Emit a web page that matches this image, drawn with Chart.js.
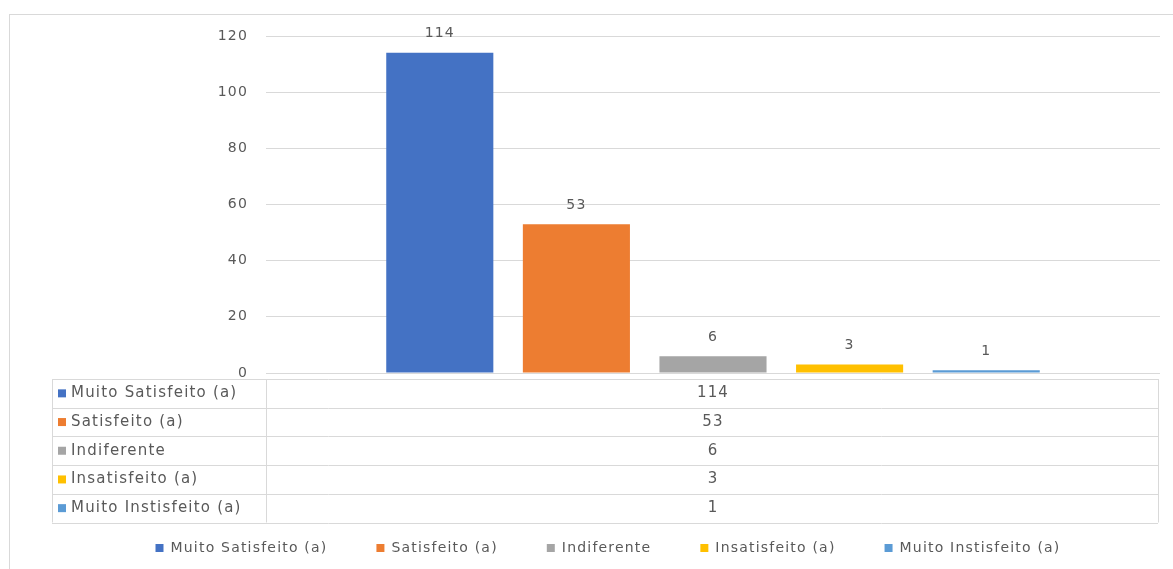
<!DOCTYPE html>
<html>
<head>
<meta charset="utf-8">
<script src="https://cdn.jsdelivr.net/npm/chart.js@4"></script>
<style>
  html, body { margin: 0; padding: 0; background: #fff; }
  #wrap { width: 1173px; height: 569px; position: relative; }
</style>
</head>
<body>
<div id="wrap"><canvas id="grafico" width="1173" height="569"></canvas></div>
<script>
// Respostas de satisfação
const categorias = ["Muito Satisfeito (a)", "Satisfeito (a)", "Indiferente", "Insatisfeito (a)", "Muito Instisfeito (a)"];
const valores = [114, 53, 6, 3, 1];
const cores = ["#4472C4", "#ED7D31", "#A5A5A5", "#FFC000", "#5B9BD5"];
const ticksY = [0, 20, 40, 60, 80, 100, 120];

const fonte = "'DejaVu Sans', 'Noto Sans', sans-serif";
const corTexto = "#595959";
const corGrade = "#d9d9d9";

// um dataset por categoria, todos no mesmo grupo
const datasets = categorias.map((nome, i) => ({
    label: nome,
    data: [valores[i]],
    backgroundColor: cores[i],
    categoryPercentage: 0.764,
    barPercentage: 0.784
}));

// moldura externa + rótulos nas barras + tabela de dados
const extras = {
    id: "extras",
    beforeUpdate(chart) {
        // texto um pouco mais espaçado, como no Excel
        chart.ctx.letterSpacing = "1.2px";
    },
    beforeDraw(chart) {
        const ctx = chart.ctx;
        ctx.save();
        ctx.fillStyle = "#fff";
        ctx.fillRect(0, 0, chart.width, chart.height);
        ctx.strokeStyle = "#d9d9d9";
        ctx.lineWidth = 1;
        ctx.strokeRect(9.5, 14.5, chart.width, chart.height);
        ctx.restore();
    },
    afterDatasetsDraw(chart) {
        const ctx = chart.ctx;
        ctx.save();
        ctx.font = "14px " + fonte;
        ctx.fillStyle = corTexto;
        ctx.textAlign = "center";
        ctx.textBaseline = "middle";
        chart.data.datasets.forEach((ds, i) => {
            const barra = chart.getDatasetMeta(i).data[0];
            ctx.fillText(String(ds.data[0]), barra.x, barra.y - 19);
        });
        ctx.restore();
    },
    afterDraw(chart) {
        const ctx = chart.ctx;
        const area = chart.chartArea;
        const esq = 52;
        const dir = area.right - 2;
        const topo = area.bottom + 6;
        const alturaLinha = 28.7;
        const centro = (area.left + area.right) / 2;
        const base = topo + alturaLinha * categorias.length;

        ctx.save();
        ctx.strokeStyle = corGrade;
        ctx.lineWidth = 1;
        ctx.beginPath();
        for (let r = 0; r <= categorias.length; r++) {
            const y = Math.round(topo + r * alturaLinha) + 0.5;
            ctx.moveTo(esq, y);
            ctx.lineTo(dir, y);
        }
        [esq, area.left, dir].forEach(x => {
            const xx = Math.round(x) + 0.5;
            ctx.moveTo(xx, topo);
            ctx.lineTo(xx, base);
        });
        ctx.stroke();

        ctx.font = "15px " + fonte;
        ctx.textBaseline = "middle";
        categorias.forEach((nome, r) => {
            const yc = topo + r * alturaLinha + alturaLinha / 2;
            ctx.fillStyle = cores[r];
            ctx.fillRect(esq + 6, yc - 4, 8, 8);
            ctx.fillStyle = corTexto;
            ctx.textAlign = "left";
            ctx.fillText(nome, esq + 19, yc);
            ctx.textAlign = "center";
            ctx.fillText(String(valores[r]), centro, yc);
        });
        ctx.restore();
    }
};

new Chart(document.getElementById("grafico"), {
    type: "bar",
    data: { labels: [""], datasets: datasets },
    plugins: [extras],
    options: {
        responsive: false,
        animation: false,
        layout: { padding: { top: 36, right: 13, bottom: 4, left: 56 } },
        scales: {
            x: {
                grid: { display: false },
                border: { display: false },
                ticks: { display: false },
                afterFit(scale) { scale.height = 119; }
            },
            y: {
                min: ticksY[0],
                max: ticksY[ticksY.length - 1],
                afterBuildTicks(scale) { scale.ticks = ticksY.map(v => ({ value: v })); },
                grid: { color: corGrade, drawTicks: false },
                border: { display: false },
                ticks: { color: corTexto, font: { family: fonte, size: 14 }, padding: 18 },
                afterFit(scale) { scale.width = 210; }
            }
        },
        plugins: {
            tooltip: { enabled: false },
            legend: {
                position: "bottom",
                labels: {
                    color: corTexto,
                    font: { family: fonte, size: 14 },
                    boxWidth: 8,
                    boxHeight: 8,
                    padding: 49
                }
            }
        }
    }
});
</script>
</body>
</html>
